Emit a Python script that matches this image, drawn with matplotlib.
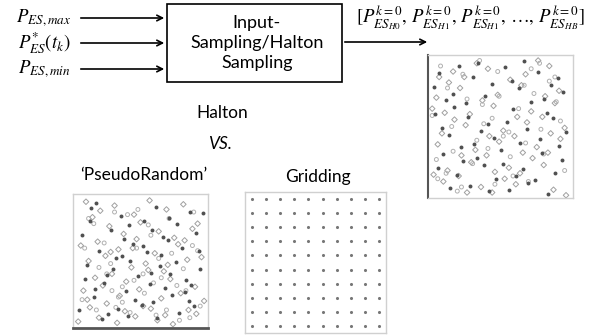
import matplotlib
matplotlib.use("Agg")
import matplotlib.pyplot as plt
from matplotlib.patches import Rectangle

plt.rcParams['mathtext.fontset'] = 'stix'
plt.rcParams['font.family'] = ['Lato', 'DejaVu Sans']

# ---------------- data ----------------
input_labels = [r'$P_{ES,max}$', r'$P^{*}_{ES}(t_k)$', r'$P_{ES,min}$']
box_text = "Input-\nSampling/Halton\nSampling"
output_label = (r'$[P^{k=0}_{ES_{H0}},\,P^{k=0}_{ES_{H1}},\,P^{k=0}_{ES_{H1}},\,\ldots,\,'
                r'P^{k=0}_{ES_{HB}}]$')
mid_titles = ["Halton", "VS."]
panel_titles = ["\u2018PseudoRandom\u2019", "Gridding"]

# Halton panel: dark dots
halton_dot_x = [.50, .25, .75, .13, .63, .38, .88, .06, .56, .31, .81, .19, .69, .44, .94,
                .03, .53, .28, .78, .16, .66, .41, .91, .09, .59, .34, .84, .22, .72, .47,
                .97, .02, .52, .27, .77, .14, .64, .39, .89, .08, .58, .33, .83, .20, .70,
                .45, .95, .05, .55, .30, .80, .17, .67, .42, .92, .11, .61, .36, .86, .23]
halton_dot_y = [.33, .67, .11, .44, .78, .22, .56, .89, .04, .37, .70, .15, .48, .81, .26,
                .59, .93, .07, .41, .74, .19, .52, .85, .30, .63, .96, .01, .35, .68, .12,
                .46, .79, .23, .57, .90, .05, .38, .72, .16, .49, .83, .27, .60, .94, .09,
                .42, .75, .20, .53, .86, .31, .64, .98, .03, .36, .69, .14, .47, .80, .25]
# Halton panel: light diamonds
halton_dia_x = [.20, .40, .60, .80, .04, .24, .44, .64, .84, .08, .28, .48, .68, .88, .12,
                .32, .52, .72, .92, .16, .36, .56, .76, .96, .01, .21, .41, .61, .81, .05,
                .25, .45, .65, .85, .09, .29, .49, .69, .89, .13, .33, .53, .73, .93, .17,
                .37, .57, .77, .97, .02, .22, .42, .62, .82, .06, .26, .46, .66, .86, .10]
halton_dia_y = [.14, .29, .43, .57, .71, .86, .02, .16, .31, .45, .59, .73, .88, .04, .18,
                .33, .47, .61, .76, .90, .06, .20, .35, .49, .63, .78, .92, .08, .22, .37,
                .51, .65, .80, .94, .10, .24, .39, .53, .67, .82, .96, .12, .27, .41, .55,
                .69, .84, .98, .00, .15, .29, .43, .57, .72, .86, .02, .17, .31, .45, .60]
# Halton panel: light open circles
halton_ring_x = [.33, .67, .11, .44, .78, .22, .56, .89, .04, .37, .70, .15, .48, .81, .26,
                 .59, .93, .07, .41, .74, .19, .52, .85, .30, .63, .96, .01, .35, .68, .12,
                 .46, .79, .23, .57, .90, .05, .38, .72, .16, .49]
halton_ring_y = [.40, .80, .16, .56, .96, .06, .46, .86, .26, .66, .10, .50, .90, .30, .70,
                 .14, .54, .94, .34, .74, .03, .43, .83, .23, .63, .18, .58, .98, .38, .78,
                 .08, .48, .88, .28, .68, .12, .52, .92, .32, .72]

# PseudoRandom panel
rand_dot_x = [.12, .35, .41, .62, .88, .05, .27, .53, .71, .93, .18, .44, .66, .82, .09,
              .31, .58, .77, .96, .22, .48, .69, .85, .14, .39, .60, .74, .91, .03, .25,
              .51, .63, .80, .16, .37, .55, .72, .89, .07, .29, .46, .67, .84, .20, .42,
              .57, .78, .95, .11, .33, .52, .65, .87, .24, .40, .59, .73, .98, .15, .36]
rand_dot_y = [.91, .85, .78, .92, .88, .70, .74, .81, .66, .72, .58, .63, .55, .60, .47,
              .52, .41, .49, .44, .33, .38, .29, .35, .22, .27, .18, .24, .15, .12, .09,
              .16, .06, .10, .95, .67, .57, .83, .31, .36, .44, .20, .69, .26, .05, .50,
              .32, .79, .58, .81, .13, .62, .46, .19, .39, .07, .74, .40, .87, .28, .54]
rand_dia_x = [.08, .19, .30, .45, .57, .70, .83, .94, .13, .26, .37, .50, .64, .76, .90,
              .04, .17, .33, .47, .61, .79, .97, .10, .23, .43, .54, .68, .86, .15, .28,
              .39, .56, .73, .92, .06, .21, .34, .49, .66, .81, .99, .11, .24, .38, .52,
              .69, .87, .02, .18, .32, .46, .63, .75, .93, .09, .27, .44, .58, .71, .84]
rand_dia_y = [.96, .89, .93, .86, .97, .90, .94, .79, .84, .77, .71, .80, .73, .68, .75,
              .62, .65, .59, .67, .56, .63, .53, .50, .54, .45, .48, .42, .51, .37, .40,
              .34, .43, .36, .30, .27, .31, .23, .28, .21, .25, .19, .14, .17, .11, .15,
              .08, .12, .03, .06, .02, .07, .04, .01, .09, .20, .57, .60, .13, .47, .66]
rand_ring_x = [.10, .14, .07, .22, .30, .36, .45, .28, .33, .52, .60, .66, .78, .85, .90,
               .94, .72, .40, .48, .56, .18, .24, .62, .70, .80, .88, .96, .05, .42, .58,
               .31, .36, .27, .64, .74, .83, .91, .47, .53, .16]
rand_ring_y = [.83, .79, .60, .64, .88, .30, .35, .27, .22, .40, .33, .37, .31, .27, .62,
               .58, .83, .86, .90, .78, .45, .40, .08, .12, .04, .06, .15, .20, .10, .70,
               .14, .18, .48, .52, .56, .44, .88, .60, .25, .12]

# Gridding panel (10 x 10 grid indices)
grid_ticks = [0, 1, 2, 3, 4, 5, 6, 7, 8, 9]

# ---------------- figure ----------------
W, H = 590, 336
fig = plt.figure(figsize=(W / 100, H / 100), dpi=100)
bg = fig.add_axes([0, 0, 1, 1])
bg.set_xlim(0, W)
bg.set_ylim(H, 0)
bg.axis('off')

# central box
bg.add_patch(Rectangle((167, 4), 175, 78, fill=False, edgecolor='black', lw=1.2))
bg.text(257, 43, box_text, ha='center', va='center', fontsize=13, linespacing=1.3)

# input arrows and labels
in_y = [18, 43, 69]
for lab, y in zip(input_labels, in_y):
    bg.annotate('', xy=(167, y), xytext=(78, y),
                arrowprops=dict(arrowstyle='->', color='black', lw=1.2))
    bg.text(71, y, lab, ha='right', va='center', fontsize=13.5)

# output arrow and label
bg.annotate('', xy=(430, 42), xytext=(342, 42),
            arrowprops=dict(arrowstyle='->', color='black', lw=1.2))
bg.text(470, 18, output_label, ha='center', va='center', fontsize=13.5)

# middle texts
bg.text(222, 113, mid_titles[0], ha='center', va='center', fontsize=12.5)
bg.text(220, 144, mid_titles[1], ha='center', va='center', fontsize=12.5, style='italic')
bg.text(144, 175, panel_titles[0], ha='center', va='center', fontsize=12.5)
bg.text(318, 177, panel_titles[1], ha='center', va='center', fontsize=12.5)


def panel(x0, y0, x1, y1):
    ax = fig.add_axes([x0 / W, 1 - y1 / H, (x1 - x0) / W, (y1 - y0) / H])
    ax.set_xticks([])
    ax.set_yticks([])
    for s in ax.spines.values():
        s.set_color('#d0d0d0')
        s.set_linewidth(1.0)
    return ax


def scatter3(ax, dx, dy, rx, ry, cx, cy):
    ax.scatter(dx, dy, marker='D', s=8, facecolors='none',
               edgecolors='#a0a0a0', linewidths=0.7)
    ax.scatter(rx, ry, marker='o', s=8, facecolors='none',
               edgecolors='#b0b0b0', linewidths=0.7)
    ax.scatter(cx, cy, marker='o', s=8, color='#505050', linewidths=0)
    ax.set_xlim(-0.02, 1.02)
    ax.set_ylim(-0.02, 1.02)


# Halton panel
ax_h = panel(428, 55, 573, 198)
scatter3(ax_h, halton_dia_x, halton_dia_y, halton_ring_x, halton_ring_y,
         halton_dot_x, halton_dot_y)
ax_h.spines['left'].set_color('#555555')
ax_h.spines['left'].set_linewidth(1.5)

# PseudoRandom panel
ax_r = panel(73, 194, 208, 328)
scatter3(ax_r, rand_dia_x, rand_dia_y, rand_ring_x, rand_ring_y,
         rand_dot_x, rand_dot_y)
ax_r.spines['bottom'].set_color('#555555')
ax_r.spines['bottom'].set_linewidth(2.0)

# Gridding panel
ax_g = panel(245, 192, 386, 333)
gx = [i for i in grid_ticks for _ in grid_ticks]
gy = [j for _ in grid_ticks for j in grid_ticks]
ax_g.scatter(gx, gy, marker='o', s=5, color='#777777', linewidths=0)
ax_g.set_xlim(-0.5, 9.5)
ax_g.set_ylim(-0.5, 9.5)

fig.savefig("out.png", dpi=100)
